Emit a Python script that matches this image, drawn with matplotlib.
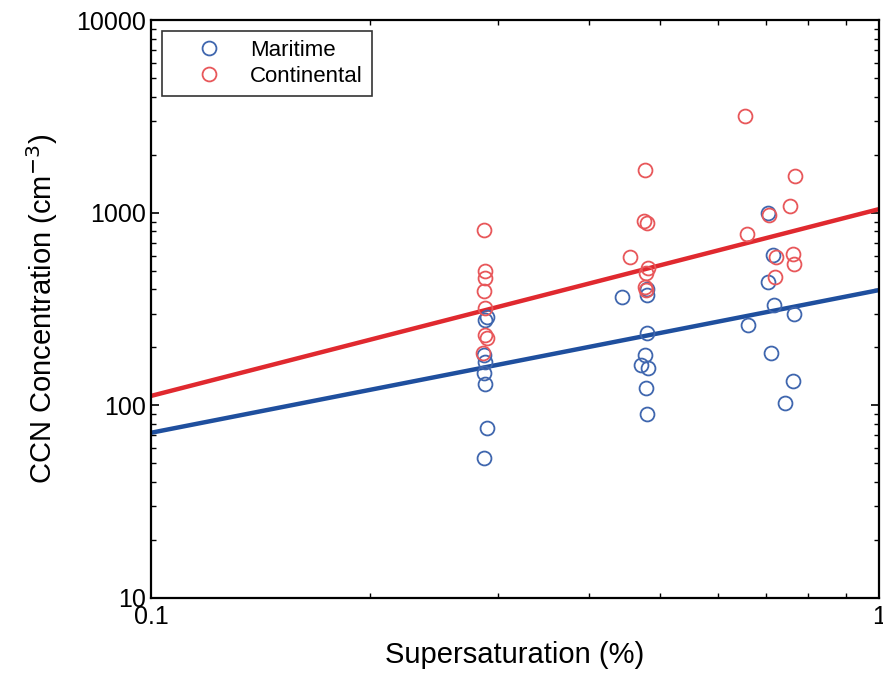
import numpy as np
import matplotlib.pyplot as plt
from matplotlib.ticker import FixedLocator, FixedFormatter, LogLocator, NullFormatter

plt.rcParams['font.family'] = ['Liberation Sans', 'DejaVu Sans']

# maritime CCN samples (supersaturation %, concentration cm^-3)
mar_ss = [0.289, 0.288, 0.287, 0.288, 0.287, 0.288, 0.289, 0.287,
          0.444, 0.480, 0.480, 0.480, 0.477, 0.471, 0.481, 0.478, 0.480,
          0.704, 0.715, 0.704, 0.718, 0.764, 0.661, 0.711, 0.762, 0.743]
mar_ccn = [288, 277, 183, 168, 147, 129, 76, 53,
           365, 400, 374, 237, 183, 162, 156, 123, 90,
           997, 603, 437, 332, 298, 261, 187, 134, 103]

# continental CCN samples
con_ss = [0.287, 0.288, 0.288, 0.287, 0.288, 0.288, 0.289, 0.286,
          0.477, 0.475, 0.480, 0.455, 0.481, 0.478, 0.477, 0.478,
          0.655, 0.767, 0.755, 0.706, 0.659, 0.723, 0.762, 0.764, 0.720]
con_ccn = [813, 498, 458, 392, 320, 232, 224, 187,
           1666, 905, 890, 589, 516, 486, 412, 395,
           3175, 1550, 1083, 975, 775, 589, 611, 542, 464]

# power-law fits N = C * s^k
mar_C, mar_k = 397, 0.741
con_C, con_k = 1045, 0.970

fig = plt.figure(figsize=(8.83, 6.74), dpi=100)
ax = fig.add_axes([0.171, 0.1128, 0.8245, 0.8572])

s_fit = np.array([0.1, 1.0])
ax.plot(s_fit, mar_C * s_fit ** mar_k, color='#1f4f9e', lw=3.2, zorder=2)
ax.plot(s_fit, con_C * s_fit ** con_k, color='#e0292f', lw=3.2, zorder=2)

ax.plot(mar_ss, mar_ccn, 'o', ls='none', mfc='none', mec='#3f66ae', mew=1.3,
        ms=10, label='Maritime', zorder=3)
ax.plot(con_ss, con_ccn, 'o', ls='none', mfc='none', mec='#e8575a', mew=1.3,
        ms=10, label='Continental', zorder=3)

ax.set_xscale('log')
ax.set_yscale('log')
ax.set_xlim(0.1, 1)
ax.set_ylim(10, 10000)

ax.xaxis.set_major_locator(FixedLocator([0.1, 1]))
ax.xaxis.set_major_formatter(FixedFormatter(['0.1', '1']))
ax.xaxis.set_minor_locator(LogLocator(base=10, subs=np.arange(2, 10)))
ax.xaxis.set_minor_formatter(NullFormatter())
ax.yaxis.set_major_locator(FixedLocator([10, 100, 1000, 10000]))
ax.yaxis.set_major_formatter(FixedFormatter(['10', '100', '1000', '10000']))
ax.yaxis.set_minor_locator(LogLocator(base=10, subs=np.arange(2, 10)))
ax.yaxis.set_minor_formatter(NullFormatter())

ax.tick_params(which='both', direction='in', top=True, right=True, labelsize=18)
ax.tick_params(which='major', length=6, width=1.2)
ax.tick_params(which='minor', length=3.5, width=1.0)
ax.tick_params(axis='x', pad=5)
for sp in ax.spines.values():
    sp.set_linewidth(1.6)

ax.set_xlabel('Supersaturation (%)', fontsize=21, labelpad=9)
ax.set_ylabel('CCN Concentration (cm$^{-3}$)', fontsize=21, labelpad=12)

leg = ax.legend(loc='upper left', fontsize=16, frameon=True, fancybox=False,
                handletextpad=0.15, handlelength=3.4, borderpad=0.4,
                labelspacing=0.2, borderaxespad=0.5)
leg.get_frame().set_edgecolor('black')
leg.get_frame().set_linewidth(1.2)

fig.savefig('out.png', dpi=100)
